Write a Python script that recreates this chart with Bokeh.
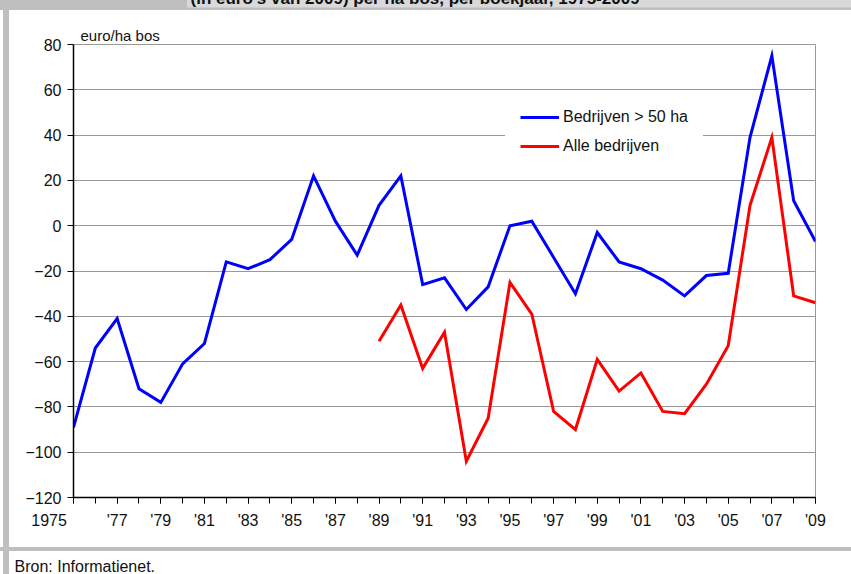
from bokeh.plotting import figure
from bokeh.models import (FixedTicker, Legend, LegendItem, Range1d, ColumnDataSource, Title)
from bokeh.embed import file_html
from bokeh.resources import INLINE

# ---- data ----
years = list(range(1975, 2010))
bedrijven_50ha = [-89, -54, -41, -72, -78, -61, -52, -16, -19, -15, -6, 22, 2, -13, 9, 22,
                  -26, -23, -37, -27, 0, 2, -14, -30, -3, -16, -19, -24, -31, -22, -21,
                  39, 75, 11, -7]
alle_years = list(range(1989, 2010))
alle_bedrijven = [-51, -35, -63, -47, -104, -85, -25, -39, -82, -90, -59, -73, -65, -82,
                  -83, -70, -53, 9, 39, -31, -34]
x_label_years = list(range(1975, 2010, 2))
x_tick_labels = ["1975", "'77", "'79", "'81", "'83", "'85", "'87", "'89", "'91", "'93",
                 "'95", "'97", "'99", "'01", "'03", "'05", "'07", "'09"]
y_ticks = [-120, -100, -80, -60, -40, -20, 0, 20, 40, 60, 80]
series_names = ["Bedrijven > 50 ha", "Alle bedrijven"]

FONT = "Liberation Sans, Arial, sans-serif"
TXT = "#111111"

W, H = 851, 574
T = 30                      # hidden strip above the window
FL, FR, FT, FB = 73, 815, 44, 497  # frame edges in window px

p = figure(width=W, height=H + T, x_range=Range1d(1975, 2009), y_range=Range1d(-120, 80),
           output_backend="svg", toolbar_location=None,
           min_border_left=FL, min_border_right=W - FR, min_border_top=FT + T,
           min_border_bottom=H - FB)

bg = ", ".join([
    f"linear-gradient(#d9d9d9,#d9d9d9) 187px {T}px / 664px 7.5px no-repeat",
    f"linear-gradient(#bfbfbf,#bfbfbf) 0px 0px / {W}px {T + 10}px no-repeat",
    f"linear-gradient(#bfbfbf,#bfbfbf) 3px {T + 10}px / 6px {H}px no-repeat",
    f"linear-gradient(#bfbfbf,#bfbfbf) 0px {T + 547}px / {W}px 4px no-repeat",
    "white",
])
p.styles = {"margin-top": f"-{T}px", "background": bg}
p.border_fill_color = None
p.border_fill_alpha = 0
p.background_fill_color = "white"
p.outline_line_color = "#999999"
p.outline_line_width = 1

src1 = ColumnDataSource(dict(x=years, y=bedrijven_50ha))
src2 = ColumnDataSource(dict(x=alle_years, y=alle_bedrijven))
r1 = p.line("x", "y", source=src1, line_color="#0000ff", line_width=3, line_join="miter")
r2 = p.line("x", "y", source=src2, line_color="#ff0000", line_width=3, line_join="miter")

# axes
p.xgrid.visible = False
p.ygrid.grid_line_color = "#999999"
p.ygrid.grid_line_width = 1
p.ygrid.ticker = FixedTicker(ticks=y_ticks)

xa = p.xaxis[0]
xa.ticker = FixedTicker(ticks=x_label_years, minor_ticks=years)
overrides = dict(zip(x_label_years, x_tick_labels))
overrides[1975] = "1975" + "\u00a0" * 11
xa.major_label_overrides = overrides
xa.major_tick_in = 0
xa.major_tick_out = 6
xa.minor_tick_in = 0
xa.minor_tick_out = 6
xa.minor_tick_line_color = "black"
xa.major_tick_line_color = "black"
xa.axis_line_color = "black"
xa.axis_line_width = 1.5
xa.major_label_standoff = 8
xa.major_label_text_font = FONT
xa.major_label_text_font_size = "16px"
xa.major_label_text_color = TXT
# invisible spacer label: pushes the source note further below the axis
xa.axis_label = "\u00a0"
xa.axis_label_text_font_size = "1px"
xa.axis_label_standoff = 20

ya = p.yaxis[0]
ya.ticker = FixedTicker(ticks=y_ticks)
ya.major_tick_in = 0
ya.major_tick_out = 6
ya.minor_tick_line_color = None
ya.major_tick_line_color = "black"
ya.axis_line_color = "black"
ya.axis_line_width = 1.5
ya.major_label_standoff = 6
ya.major_label_text_font = FONT
ya.major_label_text_font_size = "16px"
ya.major_label_text_color = TXT

# legend
legend = Legend(items=[LegendItem(label=series_names[0], renderers=[r1]),
                       LegendItem(label=series_names[1], renderers=[r2])],
                location=(432, 326), padding=15, spacing=9, margin=0,
                glyph_width=39, glyph_height=20, label_height=20, label_standoff=4,
                border_line_alpha=0, background_fill_color="white",
                background_fill_alpha=1.0,
                label_text_font=FONT, label_text_font_size="16px",
                label_text_color=TXT)
p.add_layout(legend, "center")

# texts outside the plot frame
p.add_layout(Title(text="euro/ha bos", align="left", offset=7, standoff=2,
                   text_font=FONT, text_font_size="15px", text_font_style="normal",
                   text_color=TXT), "above")
p.add_layout(Title(text="(in euro's van 2009) per ha bos, per boekjaar, 1975-2009",
                   align="left", offset=190 - FL, standoff=32,
                   text_font=FONT, text_font_size="17px", text_font_style="bold",
                   text_color=TXT), "above")
p.add_layout(Title(text="Bron: Informatienet.", align="left", offset=14 - FL, standoff=0,
                   text_font=FONT, text_font_size="16px", text_font_style="normal",
                   text_color=TXT), "below")

open("out.html", "w").write(file_html(p, INLINE))
